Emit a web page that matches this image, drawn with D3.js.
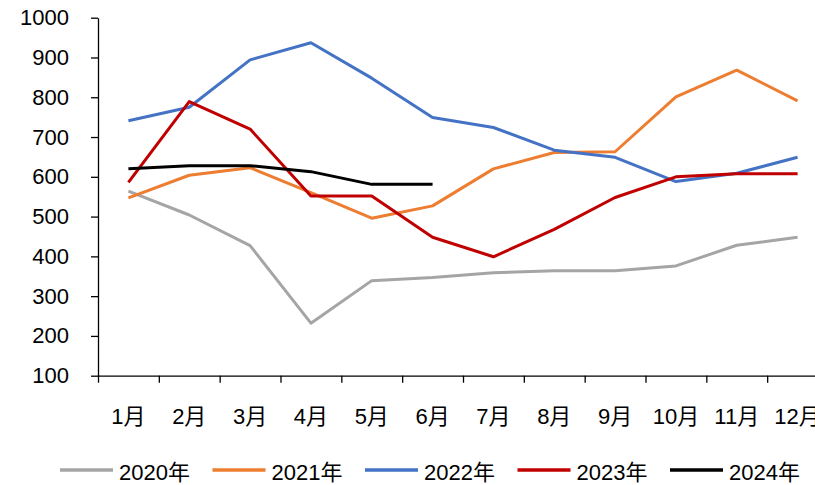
<!DOCTYPE html>
<html>
<head>
<meta charset="utf-8">
<script src="https://cdn.jsdelivr.net/npm/d3@7/dist/d3.min.js"></script>
<style>
    html, body { margin: 0; padding: 0; background: #ffffff; }
    svg text { font-family: "Liberation Sans", Arial, "Noto Sans CJK SC", sans-serif; font-size: 22px; fill: #000; }
</style>
</head>
<body>
<div id="divChart"></div>
<script>
    // месяцы (категории оси X)
    var months = ["1月", "2月", "3月", "4月", "5月", "6月", "7月", "8月", "9月", "10月", "11月", "12月"];
    var yTicks = [100, 200, 300, 400, 500, 600, 700, 800, 900, 1000];

    // значения рядов по годам
    var years = ["2020年", "2021年", "2022年", "2023年", "2024年"];
    var v2020 = [564, 504, 427, 232, 339, 347, 359, 364, 364, 376, 428, 448];
    var v2021 = [547, 604, 623, 560, 496, 527, 620, 661, 663, 801, 868, 791];
    var v2022 = [741, 775, 894, 937, 848, 749, 724, 667, 649, 588, 609, 649];
    var v2023 = [586, 789, 720, 552, 552, 448, 399, 468, 548, 600, 608, 608];
    var v2024 = [620, 628, 628, 613, 581, 581];
    var colors = ["#A5A5A5", "#ED7D31", "#4472C4", "#C00000", "#000000"];

    function init()
    {
        var chartPlace = document.getElementById("divChart");
        var width = 815;
        var height = 485;

        var left = 98, right = 828, top = 17.7, bottom = 375.7;

        var svg = d3.select(chartPlace).append("svg")
            .attr("width", width)
            .attr("height", height);

        var series = [v2020, v2021, v2022, v2023, v2024];

        // шкала категорий
        var scaleX = d3.scaleBand()
            .domain(months)
            .range([left, right])
            .padding(0);

        // границы категорий для засечек
        var scaleEdge = d3.scaleLinear()
            .domain([0, months.length])
            .range([left, right]);

        var scaleY = d3.scaleLinear()
            .domain([100, 1000])
            .range([bottom, top]);

        // ось Y
        var yAxis = d3.axisLeft(scaleY)
            .tickValues(yTicks)
            .tickFormat(d3.format("d"))
            .tickSize(7)
            .tickSizeOuter(0)
            .tickPadding(22);
        var gy = svg.append("g")
            .attr("transform", "translate(" + left + ",0)")
            .call(yAxis);
        gy.selectAll("path, line").attr("stroke", "#000").attr("stroke-width", 1.3);
        gy.selectAll("text").style("font-size", "22px").attr("fill", "#000");

        // засечки оси X на границах категорий
        var xTickAxis = d3.axisBottom(scaleEdge)
            .tickValues(d3.range(0, months.length + 1))
            .tickSize(7)
            .tickSizeOuter(0)
            .tickFormat("");
        var gx = svg.append("g")
            .attr("transform", "translate(0," + bottom + ")")
            .call(xTickAxis);
        gx.selectAll("path, line").attr("stroke", "#000").attr("stroke-width", 1.3);

        // подписи месяцев
        var xLabels = d3.axisBottom(scaleX).tickSize(0).tickSizeOuter(0);
        var gl = svg.append("g")
            .attr("transform", "translate(0," + bottom + ")")
            .call(xLabels);
        gl.select(".domain").remove();
        gl.selectAll("text")
            .attr("y", 48)
            .attr("dy", 0)
            .style("font-size", "22px")
            .attr("fill", "#000");

        // линии рядов
        var line = d3.line()
            .x(function(d, i){ return scaleX(months[i]) + scaleX.bandwidth() / 2; })
            .y(function(d){ return scaleY(d); });

        for (var s = 0; s < series.length; s++)
        {
            svg.append("path")
                .attr("d", line(series[s]))
                .style("fill", "none")
                .style("stroke", colors[s])
                .style("stroke-width", 3)
                .style("stroke-linejoin", "round");
        }

        // легенда
        var legendX = 60, legendStep = 152.5, legendY = 470;
        for (var k = 0; k < years.length; k++)
        {
            var lx = legendX + k * legendStep;
            svg.append("line")
                .attr("x1", lx).attr("x2", lx + 53)
                .attr("y1", legendY).attr("y2", legendY)
                .style("stroke", colors[k])
                .style("stroke-width", 3.5);
            svg.append("text")
                .attr("x", lx + 59)
                .attr("y", legendY + 10)
                .text(years[k]);
        }
    }

    window.onload = init;
</script>
</body>
</html>
